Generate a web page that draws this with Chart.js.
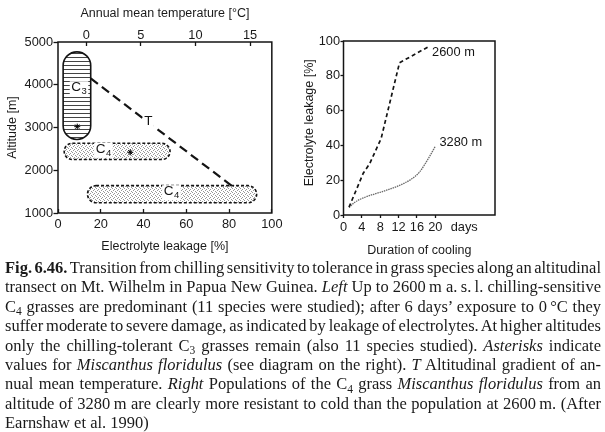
<!DOCTYPE html>
<html><head><meta charset="utf-8">
<script src="https://cdn.jsdelivr.net/npm/chart.js@4.4.1/dist/chart.umd.min.js"></script>
<style>
html,body{margin:0;padding:0;background:#fff;}
body{width:605px;height:432px;position:relative;overflow:hidden;}
#left{position:absolute;left:0;top:0;}
#right{position:absolute;left:290px;top:0;}
#caption{position:absolute;left:5px;top:258px;width:596px;font-family:"Liberation Serif","Times New Roman",serif;font-size:14px;line-height:19.4px;color:#1a1a1a;}
#caption .ln{display:block;white-space:nowrap;}
#caption .ln span.t{display:inline-block;}
sub{font-size:70%;vertical-align:baseline;position:relative;top:0.28em;line-height:0;}
</style></head><body>
<canvas id="left" width="290" height="260"></canvas>
<canvas id="right" width="315" height="260"></canvas>
<div id="caption">
<div class="ln j"><span class="t"><b>Fig. 6.46.</b> Transition from chilling sensitivity to tolerance in grass species along an altitudinal</span></div>
<div class="ln j"><span class="t">transect on Mt. Wilhelm in Papua New Guinea. <i>Left</i> Up to 2600&#8201;m a.&#8201;s.&#8201;l. chilling-sensitive</span></div>
<div class="ln j"><span class="t">C<sub>4</sub> grasses are predominant (11 species were studied); after 6 days’ exposure to 0&#8201;°C they</span></div>
<div class="ln j"><span class="t">suffer moderate to severe damage, as indicated by leakage of electrolytes. At higher altitudes</span></div>
<div class="ln j"><span class="t">only the chilling-tolerant C<sub>3</sub> grasses remain (also 11 species studied). <i>Asterisks</i> indicate</span></div>
<div class="ln j"><span class="t">values for <i>Miscanthus floridulus</i> (see diagram on the right). <i>T</i> Altitudinal gradient of an-</span></div>
<div class="ln j"><span class="t">nual mean temperature. <i>Right</i> Populations of the C<sub>4</sub> grass <i>Miscanthus floridulus</i> from an</span></div>
<div class="ln j"><span class="t">altitude of 3280&#8201;m are clearly more resistant to cold than the population at 2600&#8201;m. (After</span></div>
<div class="ln"><span class="t">Earnshaw et al. 1990)</span></div>
</div>
<script>
// ---------- Left panel data ----------
const leakageTicks = [0, 20, 40, 60, 80, 100];
const altitudeTicks = [1000, 2000, 3000, 4000, 5000];
const temperatureTicks = [0, 5, 10, 15];
const temperatureRange = [-2.6, 17.0];
const c3Leakage = [2.4, 15.3];
const c3Altitude = [2720, 4770];
const c4UpperLeakage = [2.9, 52.4];
const c4UpperAltitude = [2250, 2630];
const c4LowerLeakage = [13.8, 92.9];
const c4LowerAltitude = [1240, 1640];
const asteriskLeakage = [9.0, 33.8];
const asteriskAltitude = [3020, 2420];
const gradientLeakage = [15.3, 82.7];
const gradientAltitude = [4150, 1578];
const groupLabelText = ['C', 'C', 'C', 'T'];
const groupLabelSub = ['3', '4', '4', ''];
const groupLabelLeakage = [6.2, 17.6, 49.4, 40.3];
const groupLabelAltitude = [3930, 2490, 1498, 3136];

// ---------- Right panel data ----------
const dayTickValues = [0, 4, 8, 12, 16, 20, 26.3];
const dayTickLabels = ['0', '4', '8', '12', '16', '20', 'days'];
const leakTicks = [0, 20, 40, 60, 80, 100];
const days2600 = [1.2, 4.3, 5.7, 8.2, 12.2, 18.7];
const leak2600 = [4.5, 24, 29.5, 44, 87.5, 97];
const days3280 = [1.2, 2.4, 4.5, 8.5, 12.2, 14.7, 16.5, 18.6, 20];
const leak3280 = [4.3, 7.2, 10, 13.5, 17, 20.5, 24.5, 33, 39.5];
const seriesNames = ['2600 m', '3280 m'];
const seriesLabelDays = [19.3, 20.9];
const seriesLabelLeak = [93.3, 41.5];

Chart.defaults.font.family = '"Liberation Sans", Arial, sans-serif';
Chart.defaults.color = '#1a1a1a';
const INK = '#141414';

function pillPath(ctx, x0, y0, x1, y1) {
  const w = x1 - x0, h = y1 - y0, r = Math.min(w, h) / 2;
  ctx.beginPath();
  ctx.moveTo(x0 + r, y0);
  ctx.lineTo(x1 - r, y0);
  ctx.arc(x1 - r, y0 + r, r, -Math.PI / 2, 0);
  ctx.lineTo(x1, y1 - r);
  ctx.arc(x1 - r, y1 - r, r, 0, Math.PI / 2);
  ctx.lineTo(x0 + r, y1);
  ctx.arc(x0 + r, y1 - r, r, Math.PI / 2, Math.PI);
  ctx.lineTo(x0, y0 + r);
  ctx.arc(x0 + r, y0 + r, r, Math.PI, Math.PI * 1.5);
  ctx.closePath();
}
function makePattern(ctx, kind) {
  const c = document.createElement('canvas');
  c.width = 4; c.height = 4;
  const g = c.getContext('2d');
  g.fillStyle = '#fff'; g.fillRect(0, 0, 4, 4);
  if (kind === 'hatch') {
    g.fillStyle = '#444'; g.fillRect(0, 1, 4, 1);
  } else {
    g.fillStyle = '#979797';
    [[0,0],[2,1],[1,2],[3,3]].forEach(p => g.fillRect(p[0], p[1], 1, 1));
  }
  return ctx.createPattern(c, 'repeat');
}
function frame(chart) {
  const {ctx, chartArea: a} = chart;
  ctx.save();
  ctx.strokeStyle = INK; ctx.lineWidth = 1.5;
  ctx.strokeRect(a.left, a.top, a.right - a.left, a.bottom - a.top);
  ctx.restore();
}

const leftDecor = {
  id: 'leftDecor',
  beforeDatasetsDraw(chart) {
    const {ctx, scales: {x, y}} = chart;
    const hatch = makePattern(ctx, 'hatch');
    const stip = makePattern(ctx, 'stipple');
    const pills = [
      {lk: c3Leakage, al: c3Altitude, fill: hatch, dash: []},
      {lk: c4UpperLeakage, al: c4UpperAltitude, fill: stip, dash: [3, 2]},
      {lk: c4LowerLeakage, al: c4LowerAltitude, fill: stip, dash: [3, 2]}
    ];
    pills.forEach(p => {
      const x0 = x.getPixelForValue(p.lk[0]), x1 = x.getPixelForValue(p.lk[1]);
      const y0 = y.getPixelForValue(p.al[1]), y1 = y.getPixelForValue(p.al[0]);
      ctx.save();
      pillPath(ctx, x0, y0, x1, y1);
      ctx.fillStyle = p.fill; ctx.fill();
      ctx.setLineDash(p.dash); ctx.lineWidth = 1.6; ctx.strokeStyle = INK; ctx.stroke();
      ctx.restore();
    });
  },
  afterDatasetsDraw(chart) {
    const {ctx, scales: {x, y}} = chart;
    ctx.save();
    ctx.textAlign = 'left'; ctx.textBaseline = 'middle';
    groupLabelText.forEach((t, i) => {
      const px = x.getPixelForValue(groupLabelLeakage[i]);
      const py = y.getPixelForValue(groupLabelAltitude[i]);
      ctx.font = '13.5px "Liberation Sans", Arial, sans-serif';
      const w = ctx.measureText(t).width;
      ctx.font = '9.5px "Liberation Sans", Arial, sans-serif';
      const ws = groupLabelSub[i] ? ctx.measureText(groupLabelSub[i]).width + 0.5 : 0;
      ctx.fillStyle = '#fff';
      ctx.fillRect(px - 1.5, py - 6.5, w + ws + 3, groupLabelSub[i] ? 15 : 13);
      ctx.fillStyle = INK;
      ctx.font = '13.5px "Liberation Sans", Arial, sans-serif';
      ctx.fillText(t, px, py);
      if (groupLabelSub[i]) {
        ctx.font = '9.5px "Liberation Sans", Arial, sans-serif';
        ctx.fillText(groupLabelSub[i], px + w + 0.5, py + 4);
      }
    });
    ctx.restore();
    frame(chart);
  }
};

const rightDecor = {
  id: 'rightDecor',
  afterDatasetsDraw(chart) {
    const {ctx, scales: {x, y}} = chart;
    ctx.save();
    ctx.font = '12.8px "Liberation Sans", Arial, sans-serif';
    ctx.textAlign = 'left'; ctx.textBaseline = 'middle'; ctx.fillStyle = INK;
    seriesNames.forEach((n, i) => {
      ctx.fillText(n, x.getPixelForValue(seriesLabelDays[i]), y.getPixelForValue(seriesLabelLeak[i]));
    });
    ctx.restore();
    frame(chart);
  }
};

const tickFont = {size: 12.8};
const titleFont = {size: 12.5};
const plain = v => String(v);
const pts = (xs, ys) => xs.map((v, i) => ({x: v, y: ys[i]}));

new Chart(document.getElementById('left'), {
  type: 'scatter',
  data: {
    datasets: [
      {label: 'T', data: pts(gradientLeakage, gradientAltitude), showLine: true,
       borderColor: INK, borderWidth: 2.2, borderDash: [9, 5], pointRadius: 0, xAxisID: 'x', yAxisID: 'y'},
      {label: 'Miscanthus floridulus', data: pts(asteriskLeakage, asteriskAltitude), pointStyle: 'star',
       pointRadius: 3, borderColor: '#000', backgroundColor: '#000', borderWidth: 1, xAxisID: 'x', yAxisID: 'y'}
    ]
  },
  options: {
    responsive: false, animation: false, devicePixelRatio: 1,
    layout: {padding: {left: 0, right: 12, top: 0, bottom: 0}},
    plugins: {legend: {display: false}, tooltip: {enabled: false}},
    scales: {
      x: {
        type: 'linear', position: 'bottom', min: 0, max: 100,
        afterBuildTicks: s => { s.ticks = leakageTicks.map(v => ({value: v})); },
        afterFit: s => { s.height = 47; },
        border: {display: false},
        grid: {drawOnChartArea: false, drawTicks: true, tickLength: -4, tickColor: INK, tickWidth: 1.3},
        ticks: {padding: 7.5, font: tickFont, maxRotation: 0, callback: plain},
        title: {display: true, text: 'Electrolyte leakage [%]', font: titleFont, padding: {top: 0, bottom: 6}}
      },
      x2: {
        type: 'linear', position: 'top', display: true, min: temperatureRange[0], max: temperatureRange[1],
        afterBuildTicks: s => { s.ticks = temperatureTicks.map(v => ({value: v})); },
        afterFit: s => { s.height = 42; },
        border: {display: false},
        grid: {drawOnChartArea: false, drawTicks: true, tickLength: -4, tickColor: INK, tickWidth: 1.3},
        ticks: {padding: 3, font: tickFont, maxRotation: 0, callback: plain},
        title: {display: true, text: 'Annual mean temperature [°C]', font: titleFont, padding: {top: 6.5, bottom: 0}}
      },
      y: {
        type: 'linear', position: 'left', min: 1000, max: 5000,
        afterBuildTicks: s => { s.ticks = altitudeTicks.map(v => ({value: v})); },
        afterFit: s => { s.width = 58; },
        border: {display: false},
        grid: {drawOnChartArea: false, drawTicks: true, tickLength: 4.5, tickColor: INK, tickWidth: 1.3},
        ticks: {padding: 0.5, font: tickFont, callback: plain},
        title: {display: true, text: 'Altitude [m]', font: titleFont, padding: {top: 5.5, bottom: 0}}
      }
    }
  },
  plugins: [leftDecor]
});

new Chart(document.getElementById('right'), {
  type: 'scatter',
  data: {
    datasets: [
      {label: seriesNames[0], data: pts(days2600, leak2600), showLine: true, borderColor: INK,
       borderWidth: 1.7, borderDash: [4, 3], pointRadius: 0},
      {label: seriesNames[1], data: pts(days3280, leak3280), showLine: true, borderColor: '#6a6a6a',
       borderWidth: 1.3, borderDash: [1.5, 0.8], pointRadius: 0, cubicInterpolationMode: 'monotone'}
    ]
  },
  options: {
    responsive: false, animation: false, devicePixelRatio: 1,
    layout: {padding: {left: 0, right: 110, top: 41, bottom: 0}},
    plugins: {legend: {display: false}, tooltip: {enabled: false}},
    scales: {
      x: {
        type: 'linear', position: 'bottom', min: 0, max: 33,
        afterBuildTicks: s => { s.ticks = dayTickValues.map(v => ({value: v})); },
        afterFit: s => { s.height = 45; },
        border: {display: false},
        grid: {drawOnChartArea: false, drawTicks: true, tickLength: 3,
               tickColor: c => (dayTickLabels[c.index] === 'days' ? 'rgba(0,0,0,0)' : INK), tickWidth: 1.3},
        ticks: {padding: 1.5, font: tickFont, maxRotation: 0, autoSkip: false,
                callback: (v, i) => dayTickLabels[i]},
        title: {display: true, text: 'Duration of cooling', font: titleFont, padding: {top: 0, bottom: 1.5}}
      },
      y: {
        type: 'linear', position: 'left', min: 0, max: 100,
        afterBuildTicks: s => { s.ticks = leakTicks.map(v => ({value: v})); },
        afterFit: s => { s.width = 53.5; },
        border: {display: false},
        grid: {drawOnChartArea: false, drawTicks: true, tickLength: 3, tickColor: INK, tickWidth: 1.3},
        ticks: {padding: 0.5, font: tickFont, callback: plain},
        title: {display: true, text: '   Electrolyte leakage [%]', font: titleFont, padding: {top: 12.5, bottom: 0}}
      }
    }
  },
  plugins: [rightDecor]
});

// size the caption font so lines fill the column, then justify each line
const TARGET = 596;
const cap = document.getElementById('caption');
const lines = Array.from(cap.querySelectorAll('.ln.j span.t'));
const ratios = lines.map(s => TARGET / s.getBoundingClientRect().width).sort((a, b) => a - b);
const fs = 14 * ratios[Math.floor(ratios.length / 2)] * 0.985;
cap.style.fontSize = fs.toFixed(2) + 'px';
lines.forEach(span => {
  span.style.wordSpacing = '0px';
  const w = span.getBoundingClientRect().width;
  const spaces = (span.textContent.match(/ /g) || []).length;
  if (spaces > 0) span.style.wordSpacing = ((TARGET - w) / spaces) + 'px';
});
</script>
</body></html>
